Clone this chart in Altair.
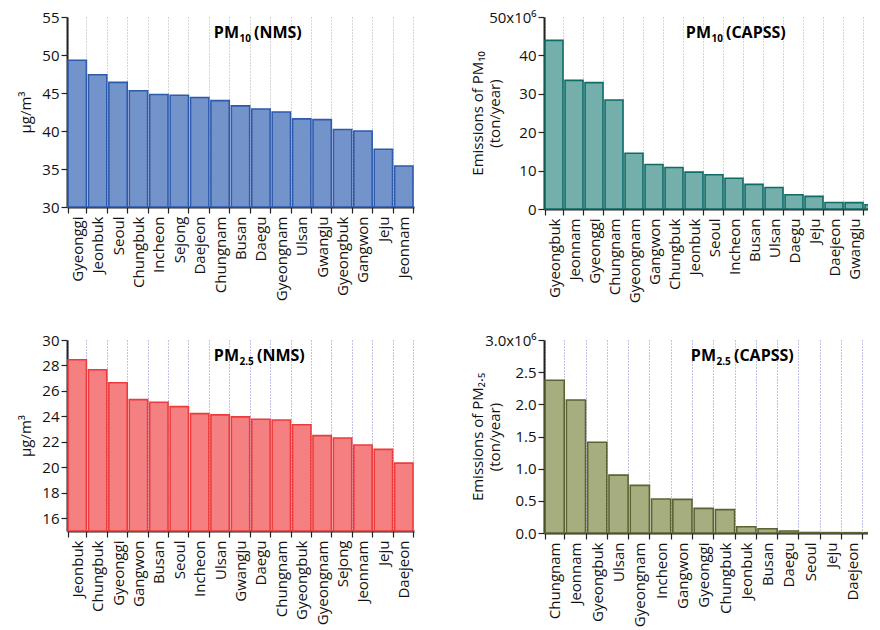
import altair as alt
import pandas as pd

# ---- data ----
pm10_nms_regions = ["Gyeonggi", "Jeonbuk", "Seoul", "Chungbuk", "Incheon", "Sejong", "Daejeon",
                    "Chungnam", "Busan", "Daegu", "Gyeongnam", "Ulsan", "Gwangju", "Gyeongbuk",
                    "Gangwon", "Jeju", "Jeonnam"]
pm10_nms_values = [49.3, 47.4, 46.4, 45.3, 44.8, 44.7, 44.4, 44.0, 43.3, 42.9, 42.5, 41.6, 41.5,
                   40.2, 40.0, 37.6, 35.4]

pm10_capss_regions = ["Gyeongbuk", "Jeonnam", "Gyeonggi", "Chungnam", "Gyeongnam", "Gangwon",
                      "Chungbuk", "Jeonbuk", "Seoul", "Incheon", "Busan", "Ulsan", "Daegu", "Jeju",
                      "Daejeon", "Gwangju", "Sejong"]
pm10_capss_values = [43.9, 33.5, 32.9, 28.4, 14.5, 11.6, 10.8, 9.6, 8.9, 8.0, 6.4, 5.6, 3.7, 3.3,
                     1.7, 1.65, 1.1]  # x10^6 ton/year

pm25_nms_regions = ["Jeonbuk", "Chungbuk", "Gyeonggi", "Gangwon", "Busan", "Seoul", "Incheon",
                    "Ulsan", "Gwangju", "Daegu", "Chungnam", "Gyeongbuk", "Gyeongnam", "Sejong",
                    "Jeonnam", "Jeju", "Daejeon"]
pm25_nms_values = [28.45, 27.66, 26.64, 25.32, 25.11, 24.77, 24.22, 24.12, 23.96, 23.78, 23.72,
                   23.35, 22.49, 22.30, 21.75, 21.41, 20.33]

pm25_capss_regions = ["Chungnam", "Jeonnam", "Gyeongbuk", "Ulsan", "Gyeongnam", "Incheon",
                      "Gangwon", "Gyeonggi", "Chungbuk", "Jeonbuk", "Busan", "Daegu", "Seoul",
                      "Jeju", "Daejeon", "Gwangju", "Sejong"]
pm25_capss_values = [2.375, 2.067, 1.41, 0.90, 0.74, 0.528, 0.523, 0.383, 0.363, 0.098, 0.067,
                     0.031, 0.008, 0.006, 0.005, 0.005, 0.004]  # x10^6 ton/year

FONT = "Open Sans"
AX = "#222222"


def sub_width(s):
    return sum(3 if ch == "." else 6 for ch in s)


def panel(regions, values, domain, ticks, fill, stroke, gridcolor, ytitle, width, height,
          tparts, tx, label_expr=None, fmt=None, title_x=None):
    df = pd.DataFrame({"region": regions, "value": values})
    yaxis_kw = dict(values=ticks, title=ytitle, grid=False, tickSize=6, labelPadding=2,
                    titlePadding=8)
    if label_expr:
        yaxis_kw["labelExpr"] = label_expr
    if fmt:
        yaxis_kw["format"] = fmt
    if title_x is not None:
        yaxis_kw["titleX"] = title_x
        yaxis_kw["titleBaseline"] = "bottom"
    bars = alt.Chart(df).mark_bar(fill=fill, stroke=stroke, strokeWidth=1.6).encode(
        x=alt.X("region:N", sort=regions,
                scale=alt.Scale(paddingInner=0.1, paddingOuter=0.05),
                axis=alt.Axis(title=None, labelAngle=-90, tickBand="extent", grid=True,
                              gridDash=[1, 2], gridColor=gridcolor, gridWidth=1,
                              tickSize=6, labelPadding=3)),
        y=alt.Y("value:Q", scale=alt.Scale(domain=domain, nice=False, zero=False),
                axis=alt.Axis(**yaxis_kw)),
        y2=alt.datum(domain[0]),
    )
    main, sub, rest = tparts
    tdf = pd.DataFrame({"a": [main], "b": [sub], "c": [rest]})
    t1 = alt.Chart(tdf).mark_text(font=FONT, fontWeight="bold", fontSize=16, align="right",
                                  baseline="alphabetic", color="#000").encode(
        x=alt.value(tx), y=alt.value(21), text="a:N")
    t2 = alt.Chart(tdf).mark_text(font=FONT, fontWeight="bold", fontSize=10, align="left",
                                  baseline="alphabetic", color="#000").encode(
        x=alt.value(tx + 0.5), y=alt.value(25), text="b:N")
    t3 = alt.Chart(tdf).mark_text(font=FONT, fontWeight="bold", fontSize=16, align="left",
                                  baseline="alphabetic", color="#000").encode(
        x=alt.value(tx + 3 + sub_width(sub)), y=alt.value(21), text="c:N")
    return alt.layer(bars, t1, t2, t3).properties(width=width, height=height)


tl = panel(pm10_nms_regions, pm10_nms_values, [30, 55], [30, 35, 40, 45, 50, 55],
           "#7393CB", "#2E5AAE", "#AAAAAA", "µg/m³", 347, 190, ("PM", "10", "(NMS)"), 172)
bl = panel(pm25_nms_regions, pm25_nms_values, [15, 30], [16, 18, 20, 22, 24, 26, 28, 30],
           "#F48082", "#EE3A3A", "#7F86D6", "µg/m³", 347, 191, ("PM", "2.5", "(NMS)"), 172)
tr = panel(pm10_capss_regions, pm10_capss_values, [0, 50], [0, 10, 20, 30, 40, 50],
           "#74AFAB", "#0E6B66", "#AAAAAA", ["Emissions of PM₁₀", "(ton/year)"], 340, 192,
           ("PM", "10", "(CAPSS)"), 167,
           label_expr="datum.value == 50 ? '50x10⁶' : datum.label", title_x=-59)
br = panel(pm25_capss_regions, pm25_capss_values, [0, 3], [0, 0.5, 1.0, 1.5, 2.0, 2.5, 3.0],
           "#A6AD7E", "#5B6430", "#7F86D6", ["Emissions of PM₂.₅", "(ton/year)"], 362, 193,
           ("PM", "2.5", "(CAPSS)"), 172,
           label_expr="datum.value == 3 ? '3.0x10⁶' : datum.label", fmt=".1f", title_x=-59)

chart = alt.concat(tl, tr, bl, br, columns=2, spacing={"row": 131, "column": 130},
                   bounds="flush").properties(
    padding={"left": 10, "top": 2, "right": -38, "bottom": 2}
).configure_view(stroke=None).configure_axis(
    labelFont=FONT, titleFont=FONT, labelFontSize=15, titleFontSize=15,
    labelColor="#111", titleColor="#111", titleFontWeight="normal",
    domainColor=AX, domainWidth=2, tickColor=AX, tickWidth=1.2,
)

chart.save("out.html", embed_options={"renderer": "svg", "actions": False})
